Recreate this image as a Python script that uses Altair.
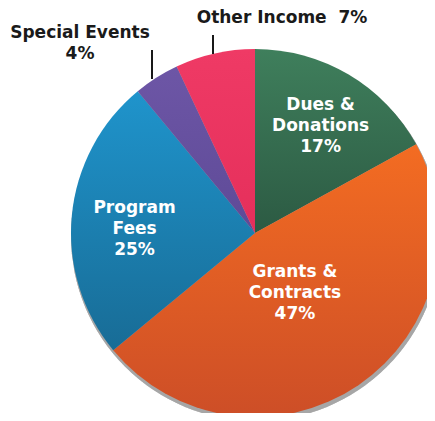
import altair as alt
import pandas as pd

categories = ["Dues & Donations", "Grants & Contracts", "Program Fees", "Special Events", "Other Income"]
shares = [17, 47, 25, 4, 7]
labels = ["Dues &\nDonations\n17%", "Grants &\nContracts\n47%", "Program\nFees\n25%",
          "Special Events\n4%", "Other Income\u00a0 7%"]

# gradient colours (top, bottom) per slice
grad_top = ["#3f7f5c", "#f36c22", "#1f94cc", "#6d56a6", "#ef3a65"]
grad_bot = ["#2c5a43", "#cd4e27", "#186c96", "#5e4a97", "#e52f5b"]

df = pd.DataFrame({"category": categories, "share": shares,
                   "order": list(range(len(categories))), "label": labels})

CX, CY, R = 247, 225, 184
FONT = "DejaVu Sans"
FS = 17

base = (alt.Chart(df)
        .transform_window(cum="sum(share)", sort=[alt.SortField("order")], frame=[None, 0])
        .transform_joinaggregate(total="sum(share)")
        .transform_calculate(
            t0="2*PI*(datum.cum-datum.share)/datum.total",
            t1="2*PI*datum.cum/datum.total",
            tm="PI*(2*datum.cum-datum.share)/datum.total"))

shadow = alt.Chart(df).mark_arc(theta=0, theta2=6.2832, outerRadius=R + 1, color="#9a9a9a", opacity=0.35).encode(
    x=alt.value(CX + 1), y=alt.value(CY + 3))

layers = [shadow]
for cat, top, bot in zip(categories, grad_top, grad_bot):
    grad = alt.LinearGradient(gradient="linear", x1=0, x2=0, y1=0, y2=1,
                              stops=[alt.GradientStop(color=top, offset=0),
                                     alt.GradientStop(color=bot, offset=1)])
    layers.append(base.transform_filter(alt.datum.category == cat)
                  .mark_arc(outerRadius=R, fill=grad)
                  .encode(theta=alt.Theta("t0:Q", scale=None), theta2="t1:Q",
                          x=alt.value(CX), y=alt.value(CY)))

inside = [("Dues & Donations", 125, -20, 2), ("Grants & Contracts", 71, -20, 0), ("Program Fees", 121, -14, 0)]
for cat, rad, ddy, ddx in inside:
    layers.append(base.transform_filter(alt.datum.category == cat)
                  .mark_text(radius=rad, dy=ddy, dx=ddx, font=FONT, fontSize=FS, fontWeight="bold",
                             color="white", lineBreak="\n", lineHeight=21,
                             align="center", baseline="middle")
                  .encode(theta=alt.Theta("tm:Q", scale=None), text="label:N",
                          x=alt.value(CX), y=alt.value(CY)))

outside = [("Special Events", 72, 25), ("Other Income", 274, 10)]
for cat, px, py in outside:
    layers.append(alt.Chart(df).transform_filter(alt.datum.category == cat)
                  .mark_text(font=FONT, fontSize=FS, fontWeight="bold", color="#1a1a1a",
                             lineBreak="\n", lineHeight=21, align="center", baseline="middle")
                  .encode(text="label:N", x=alt.value(px), y=alt.value(py)))

leaders = [(144, 42, 71), (205, 27, 46)]
for lx, ly1, ly2 in leaders:
    layers.append(alt.Chart(df).mark_rule(color="#1a1a1a", strokeWidth=1.5).encode(
        x=alt.value(lx), y=alt.value(ly1), y2=alt.value(ly2)))

chart = alt.layer(*layers).properties(
    width=419, height=405, autosize="none", padding=0
).configure_view(stroke=None)

chart.save("out.html", embed_options={"renderer": "svg", "actions": False})
